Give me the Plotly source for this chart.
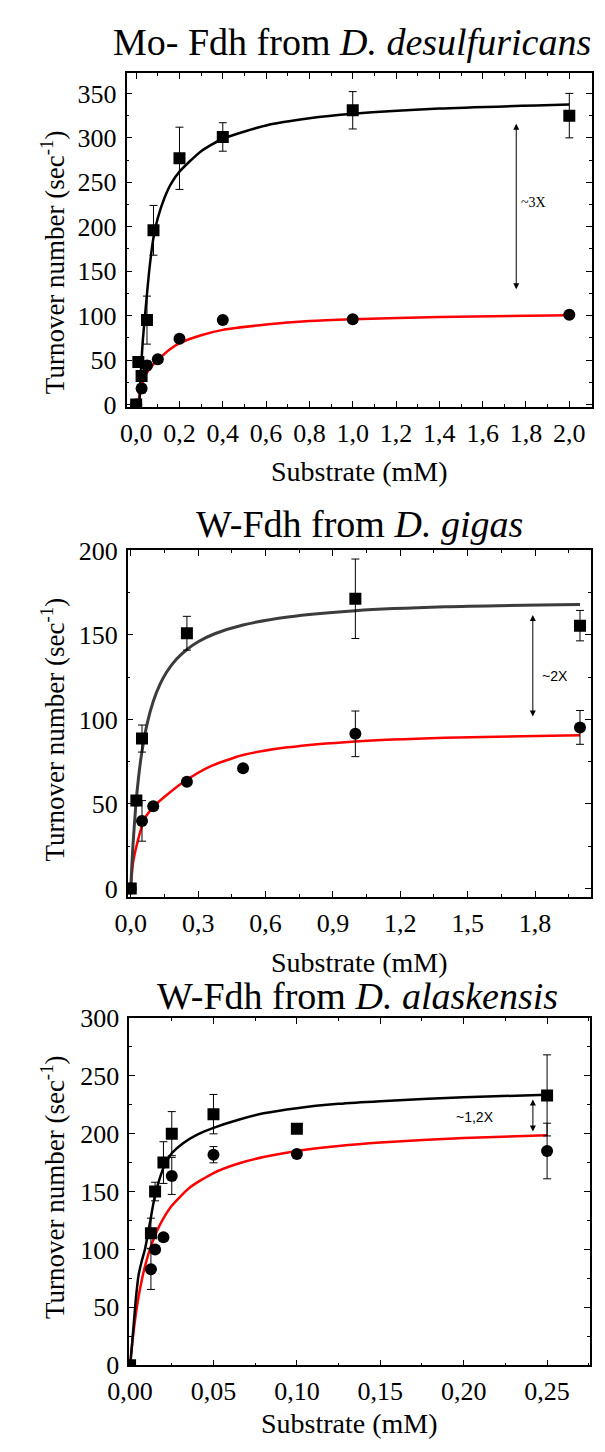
import plotly.graph_objects as go

# Page is 605x1452; the HTML body has an 8px default margin, so the figure is
# 589x1436 and all positions below are page pixels shifted by OFF.
PAGE_W, PAGE_H = 605, 1452
OFF = 8
W, H = PAGE_W - 2 * OFF, PAGE_H - 2 * OFF

# ---------------- Panel 1: Mo-Fdh from D. desulfuricans ----------------
p1_sq_x = [0, 0.01, 0.025, 0.05, 0.08, 0.2, 0.4, 1.0, 2.0]
p1_sq_y = [0, 48, 32, 95, 196, 277, 301, 331, 325]
p1_sq_e = [0, 4, 6, 27, 28, 35, 16, 21, 25]
p1_ci_x = [0, 0.025, 0.05, 0.1, 0.2, 0.4, 1.0, 2.0]
p1_ci_y = [0, 18, 44, 51, 74, 95, 96, 101]
p1_ci_e = [0, 5, 5, 3, 2, 2, 2, 2]
p1_fit_blk_x = [0.015, 0.02, 0.03, 0.04, 0.06, 0.08, 0.1, 0.13, 0.16, 0.2, 0.3, 0.4, 0.6, 0.8, 1.0, 1.4, 2.0]
p1_fit_blk_y = [0, 30, 70, 98, 150, 188, 210, 232, 248, 262, 285, 299, 314, 322, 327, 333, 337.5]
p1_fit_red_x = [0.01, 0.02, 0.03, 0.05, 0.075, 0.1, 0.15, 0.2, 0.3, 0.4, 0.6, 0.8, 1.0, 1.4, 2.0]
p1_fit_red_y = [3, 15, 24, 36, 44, 50, 61, 69, 78, 84, 90, 94, 96, 98.6, 100.5]
p1_arrow = [1.755, 128, 316]          # x, y_low, y_high
p1_label = "~3X"

# ---------------- Panel 2: W-Fdh from D. gigas ----------------
p2_sq_x = [0, 0.025, 0.05, 0.25, 1.0, 2.0]
p2_sq_y = [0, 52, 88.7, 151, 171.4, 155.5]
p2_sq_e = [0, 3, 8, 10, 23.5, 9]
p2_ci_x = [0, 0.05, 0.1, 0.25, 0.5, 1.0, 2.0]
p2_ci_y = [0, 40, 48.6, 63.1, 71.2, 91.5, 95.3]
p2_ci_e = [0, 12, 2, 2, 2, 13.5, 10]
p2_fit_gry_x = [0, 0.005, 0.01, 0.022, 0.035, 0.05, 0.074, 0.1, 0.131, 0.16, 0.203, 0.25, 0.3,
                0.374, 0.5, 0.7, 1.0, 1.4, 2.0]
p2_fit_gry_y = [0, 14, 25.9, 48.4, 66.1, 81.2, 98.1, 110.6, 121, 128.1, 135.6, 141.4, 146,
                150.7, 155.9, 160.6, 164.3, 166.6, 168]
p2_fit_red_x = [0, 0.01, 0.031, 0.06, 0.103, 0.16, 0.246, 0.35, 0.5, 0.7, 1.0, 1.4, 2.0]
p2_fit_red_y = [0, 15, 28, 40.9, 48.6, 55.3, 64, 72, 79, 83.5, 87, 89.2, 90.7]
p2_arrow = [1.79, 100.8, 161.8]
p2_label = "~2X"

# ---------------- Panel 3: W-Fdh from D. alaskensis ----------------
p3_sq_x = [0, 0.0125, 0.015, 0.02, 0.025, 0.05, 0.1, 0.25]
p3_sq_y = [0, 114, 150, 175, 200, 216.8, 204.2, 233]
p3_sq_e = [0, 13, 8, 18, 19, 17, 3, 35]
p3_ci_x = [0, 0.0125, 0.015, 0.02, 0.025, 0.05, 0.1, 0.25]
p3_ci_y = [0, 83, 100, 110.5, 163.5, 181.8, 182.4, 185]
p3_ci_e = [0, 17.5, 3, 3, 16, 7, 3, 24]
p3_fit_blk_x = [0, 0.001, 0.0022, 0.0035, 0.0051, 0.007, 0.009, 0.0119, 0.0147, 0.0175, 0.0205, 0.025,
                0.032, 0.04, 0.05, 0.065, 0.08, 0.1, 0.125, 0.15, 0.2, 0.25]
p3_fit_blk_y = [0, 15, 35.8, 58, 78, 90, 100.6, 123, 145, 160, 172, 183,
                192, 199, 205, 212, 217.5, 222, 225.7, 228, 231.4, 233.6]
p3_fit_red_x = [0, 0.001, 0.0022, 0.0035, 0.0051, 0.007, 0.009, 0.0128, 0.0166, 0.02, 0.025, 0.0358,
                0.05, 0.065, 0.08, 0.1, 0.125, 0.15, 0.2, 0.25]
p3_fit_red_y = [0, 15, 30.4, 44.6, 59.2, 73.4, 85.8, 104, 117.5, 126.9, 137.7, 153.5,
                166, 174.2, 179.8, 185, 189.3, 192.3, 196.2, 198.6]
p3_arrow = [0.2415, 200.6, 229.4]
p3_label = "~1,2X"

titles = ["Mo- Fdh from <i>D. desulfuricans</i>",
          "W-Fdh from <i>D. gigas</i>",
          "W-Fdh from <i>D. alaskensis</i>"]
x_title = "Substrate (mM)"
y_title = "Turnover number (sec<sup>-1</sup>)"

SERIF = "Liberation Serif, Times New Roman, serif"
SANS = "Liberation Sans, Arial, sans-serif"

fig = go.Figure()


def add_points(x, y, e, symbol, xa, ya):
    fig.add_trace(go.Scatter(
        x=x, y=y, mode="markers", xaxis=xa, yaxis=ya,
        marker=dict(symbol=symbol, size=12, color="black"),
        error_y=dict(type="data", array=e, visible=True, color="black", thickness=1, width=4),
        showlegend=False, hoverinfo="x+y"))


def add_fit(x, y, color, width, xa, ya):
    fig.add_trace(go.Scatter(
        x=x, y=y, mode="lines", xaxis=xa, yaxis=ya,
        line=dict(color=color, width=width, shape="spline", smoothing=0.6),
        showlegend=False, hoverinfo="skip"))


# panel 1
add_fit(p1_fit_red_x, p1_fit_red_y, "#ff0000", 2.5, "x", "y")
add_fit(p1_fit_blk_x, p1_fit_blk_y, "black", 2.5, "x", "y")
add_points(p1_sq_x, p1_sq_y, p1_sq_e, "square", "x", "y")
add_points(p1_ci_x, p1_ci_y, p1_ci_e, "circle", "x", "y")
# panel 2
add_fit(p2_fit_red_x, p2_fit_red_y, "#ff0000", 2.5, "x2", "y2")
add_fit(p2_fit_gry_x, p2_fit_gry_y, "#3c3c3c", 3, "x2", "y2")
add_points(p2_sq_x, p2_sq_y, p2_sq_e, "square", "x2", "y2")
add_points(p2_ci_x, p2_ci_y, p2_ci_e, "circle", "x2", "y2")
# panel 3
add_fit(p3_fit_red_x, p3_fit_red_y, "#ff0000", 2.5, "x3", "y3")
add_fit(p3_fit_blk_x, p3_fit_blk_y, "black", 2.5, "x3", "y3")
add_points(p3_sq_x, p3_sq_y, p3_sq_e, "square", "x3", "y3")
add_points(p3_ci_x, p3_ci_y, p3_ci_e, "circle", "x3", "y3")


def px_x(p):
    return (p - OFF) / W


def px_y(p):
    return 1 - (p - OFF) / H


TICKFONT = dict(family=SERIF, size=26, color="black")


def xaxis_style(left, right, rng, dtick, minor, fmt, anchor):
    return dict(domain=[px_x(left), px_x(right)], range=rng, anchor=anchor,
                showline=True, linecolor="black", linewidth=1.5, mirror="allticks",
                ticks="inside", ticklen=6, tickwidth=1.2, tickcolor="black",
                dtick=dtick, tick0=0, tickformat=fmt, showgrid=False, zeroline=False,
                ticklabelstandoff=2,
                minor=dict(ticks="inside", ticklen=3, dtick=minor, tick0=0, tickcolor="black", tickwidth=1),
                tickfont=TICKFONT)


def yaxis_style(top, bottom, rng, anchor):
    return dict(domain=[px_y(bottom), px_y(top)], range=rng, anchor=anchor,
                showline=True, linecolor="black", linewidth=1.5, mirror="allticks",
                ticks="inside", ticklen=6, tickwidth=1.2, tickcolor="black",
                dtick=50, tick0=0, showgrid=False, zeroline=False,
                ticklabelstandoff=3,
                minor=dict(ticks="inside", ticklen=3, dtick=25, tick0=0, tickcolor="black", tickwidth=1),
                tickfont=TICKFONT)


fig.update_layout(
    width=W, height=H, margin=dict(l=0, r=0, t=0, b=0), autosize=False,
    paper_bgcolor="white", plot_bgcolor="white", separators=", ",
    xaxis=xaxis_style(108.3, 591.4, [-0.0444, 2.103], 0.2, 0.1, ".1f", "y"),
    yaxis=yaxis_style(60, 401, [-2.8, 373], "x"),
    xaxis2=xaxis_style(109.4, 590.3, [-0.014, 2.047], 0.3, 0.15, ".1f", "y2"),
    yaxis2=yaxis_style(547.3, 901, [-5, 200], "x2"),
    xaxis3=xaxis_style(111.1, 589.5, [-0.0005, 0.2756], 0.05, 0.025, ".2f", "y3"),
    yaxis3=yaxis_style(1024.3, 1379, [0, 300], "x3"),
)

anns = []
# panel titles
for t, cx, cy in zip(titles, [343, 350, 348], [28, 520, 1002]):
    anns.append(dict(text=t, x=px_x(cx), y=px_y(cy), xref="paper", yref="paper",
                     xanchor="center", yanchor="middle", showarrow=False,
                     font=dict(family=SERIF, size=38, color="black")))
# x-axis titles
for cx, cy in zip([350, 350, 340], [467, 968, 1438]):
    anns.append(dict(text=x_title, x=px_x(cx), y=px_y(cy), xref="paper", yref="paper",
                     xanchor="center", yanchor="middle", showarrow=False,
                     font=dict(family=SERIF, size=28, color="black")))
# y-axis titles
for cy in [253, 730, 1197]:
    anns.append(dict(text=y_title, x=px_x(32), y=px_y(cy), xref="paper", yref="paper",
                     xanchor="center", yanchor="middle", showarrow=False, textangle=-90,
                     font=dict(family=SERIF, size=27, color="black")))

# double-headed arrows
for arr, xa, ya in [(p1_arrow, "x", "y"), (p2_arrow, "x2", "y2"), (p3_arrow, "x3", "y3")]:
    anns.append(dict(x=arr[0], y=arr[2], ax=arr[0], ay=arr[1], xref=xa, yref=ya, axref=xa, ayref=ya,
                     text="", showarrow=True, arrowhead=2, arrowside="end+start",
                     arrowsize=1.2, arrowwidth=1, arrowcolor="black"))
# fold-change labels
anns.append(dict(text=p1_label, x=1.77, y=227, xref="x", yref="y", xanchor="left", yanchor="middle",
                 showarrow=False, font=dict(family=SERIF, size=14, color="black")))
anns.append(dict(text=p2_label, x=1.82, y=125.6, xref="x2", yref="y2", xanchor="left", yanchor="middle",
                 showarrow=False, font=dict(family=SANS, size=14, color="black")))
anns.append(dict(text=p3_label, x=0.2066, y=214, xref="x3", yref="y3", xanchor="center", yanchor="middle",
                 showarrow=False, font=dict(family=SANS, size=14, color="black")))

fig.update_layout(annotations=anns)
fig.write_html("out.html")
